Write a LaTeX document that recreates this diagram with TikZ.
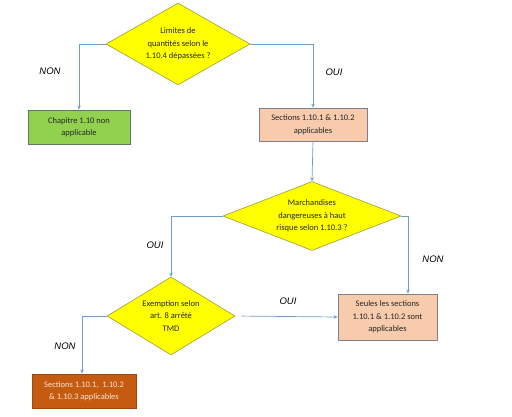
\documentclass[tikz,border=0pt]{standalone}
\usepackage{fontspec}
\setmainfont{Carlito}
\newfontfamily\labelfont{Liberation Sans}
\usetikzlibrary{shapes.geometric,arrows.meta}
\definecolor{arrowblue}{HTML}{6F9CCB}
\definecolor{dyellow}{HTML}{FFFF00}
\definecolor{dborder}{HTML}{9C9C3C}
\definecolor{boxgreen}{HTML}{92D050}
\definecolor{greenborder}{HTML}{5E7A56}
\definecolor{salmon}{HTML}{F8CBAD}
\definecolor{salmonborder}{HTML}{7F8087}
\definecolor{darkorange}{HTML}{C55A11}
\definecolor{creamtext}{HTML}{F6E6D6}
\tikzset{
  txt/.style={font=\fontsize{8.5}{12.5}\selectfont, align=center, text=black!85},
  decision/.style={txt, shape=diamond, draw=dborder, line width=0.6pt, fill=dyellow, inner sep=0pt},
  resultbox/.style={txt, rectangle, line width=0.8pt, inner sep=0pt},
  conn/.style={draw=arrowblue, line width=0.7pt, -{Stealth[length=4pt,width=3.5pt]}},
  answer/.style={font=\labelfont\itshape\fontsize{9.5}{11}\selectfont, text=black}
}
\begin{document}
\begin{tikzpicture}[x=1pt,y=-1pt]
\useasboundingbox (0,0) rectangle (512,416);
\fill[white] (0,0) rectangle (512,416);

\node[decision, minimum width=144pt, minimum height=82pt, aspect=1.76] (d1) at (178,44)
  {Limites de\\quantités selon le\\1.10.4 dépassées ?};
\node[resultbox, fill=boxgreen, draw=greenborder, minimum width=102pt, minimum height=34pt] (g) at (79,127)
  {Chapitre 1.10 non\\applicable};
\node[resultbox, fill=salmon, draw=salmonborder, minimum width=108pt, minimum height=33pt] (b2) at (313,124.5)
  {Sections 1.10.1 \& 1.10.2\\applicables};
\node[decision, minimum width=178pt, minimum height=69pt, aspect=2.58] (d2) at (312,216)
  {Marchandises\\dangereuses à haut\\risque selon 1.10.3 ?};
\node[decision, minimum width=128pt, minimum height=78pt, aspect=1.64] (d3) at (171,316)
  {Exemption selon\\art. 8 arrêté\\TMD};
\node[resultbox, fill=salmon, draw=salmonborder, minimum width=99pt, minimum height=46pt] (b3) at (387.5,317)
  {Seules les sections\\1.10.1 \& 1.10.2 sont\\applicables};
\node[resultbox, fill=darkorange, draw=darkorange!80!black, text=creamtext, minimum width=104pt, minimum height=34pt] (b4) at (84,391)
  {Sections 1.10.1,~~1.10.2\\\& 1.10.3 applicables};

\draw[conn] (d1.west) -| (g.north);
\draw[conn] (d1.east) -| (b2.north);
\draw[conn] (b2.south) -- (d2.north);
\draw[conn] (d2.west) -| (d3.north);
\draw[conn] (d2.east) -| ([xshift=20.5pt]b3.north);
\draw[conn, shorten <=6pt] (d3.east) -- (b3.west);
\draw[conn] (d3.west) -| ([xshift=-2pt]b4.north);

\node[answer] (l1) at (50,71) {NON};
\node[answer] (l2) at (334,72) {OUI};
\node[answer] (l3) at (155,245) {OUI};
\node[answer] (l4) at (433,259) {NON};
\node[answer] (l5) at (288,301) {OUI};
\node[answer] (l6) at (65,346) {NON};
\end{tikzpicture}
\end{document}
